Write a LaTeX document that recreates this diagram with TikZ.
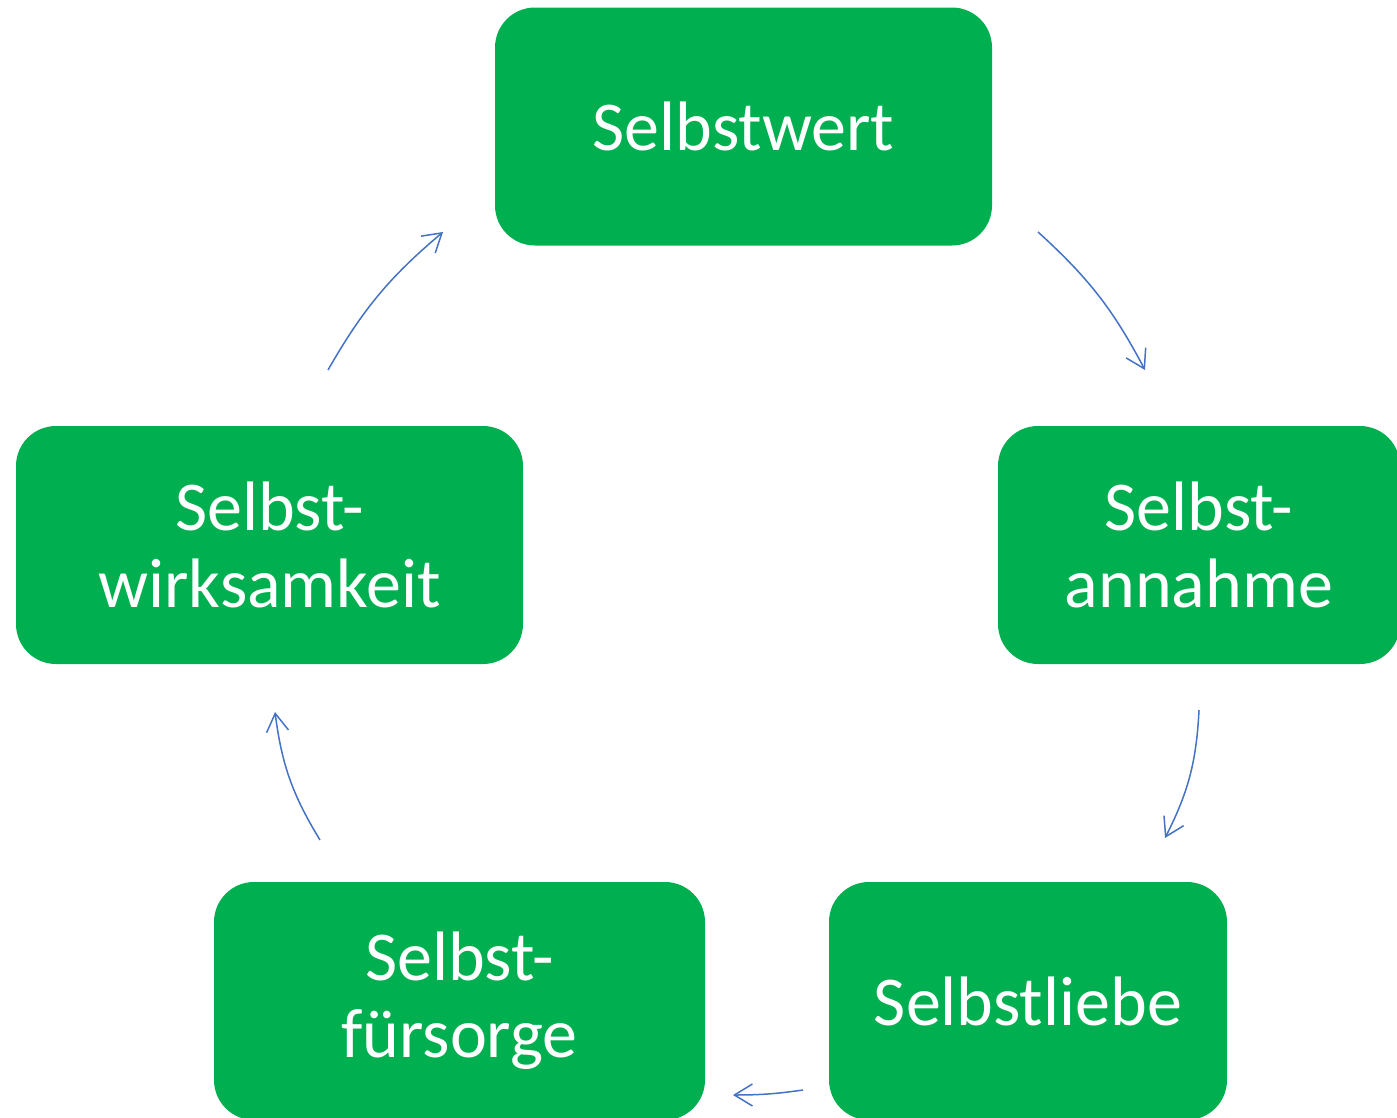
\documentclass[tikz,border=0pt]{standalone}
\usepackage{fontspec}
\setmainfont{Carlito}
\usepackage{tikz}
\usetikzlibrary{arrows.meta}

\definecolor{boxgreen}{HTML}{00B050}
\definecolor{arrowblue}{HTML}{4472C4}

\tikzset{
    stepbox/.style={fill=boxgreen, rounded corners=40pt, text=white, align=center,
        minimum height=238pt, inner sep=0pt,
        font=\fontsize{70}{77}\selectfont},
    cyclearrow/.style={draw=arrowblue, line width=1.5pt,
        -{Straight Barb[length=18pt,width=22pt,line width=1.5pt]}}
}

\begin{document}
\begin{tikzpicture}[x=1pt,y=-1pt]
                \clip (0,0) rectangle (1397,1117);
                \fill[white] (0,0) rectangle (1397,1117);

                % the five boxes
                \node[stepbox, minimum width=497pt] (wert) at (743.5, 126.5) {Selbstwert};
                \node[stepbox, minimum width=402pt] (annahme) at (1199, 545) {Selbst-\\annahme};
                \node[stepbox, minimum width=398pt] (liebe) at (1028, 1001) {Selbstliebe};
                \node[stepbox, minimum width=491pt] (fuersorge) at (459.5, 1001) {Selbst-\\fürsorge};
                \node[stepbox, minimum width=507pt] (wirksam) at (269.5, 545) {Selbst-\\wirksamkeit};

                % arrow ends
                \coordinate (a1s) at (1038, 232);
                \coordinate (a1e) at (1145, 370);
                \coordinate (a2s) at (1199, 710);
                \coordinate (a2e) at (1165, 838);
                \coordinate (a3s) at (803, 1090);
                \coordinate (a3e) at (733, 1095);
                \coordinate (a4s) at (320, 840);
                \coordinate (a4e) at (275, 712);
                \coordinate (a5s) at (328, 370);
                \coordinate (a5e) at (443, 232);

                \draw[cyclearrow] (a1s) to[bend left=10] (a1e);
                \draw[cyclearrow] (a2s) to[bend left=12] (a2e);
                \draw[cyclearrow] (a3s) to[bend left=4] (a3e);
                \draw[cyclearrow] (a4s) to[bend left=12] (a4e);
                \draw[cyclearrow] (a5s) to[bend left=10] (a5e);
            \end{tikzpicture}
\end{document}
